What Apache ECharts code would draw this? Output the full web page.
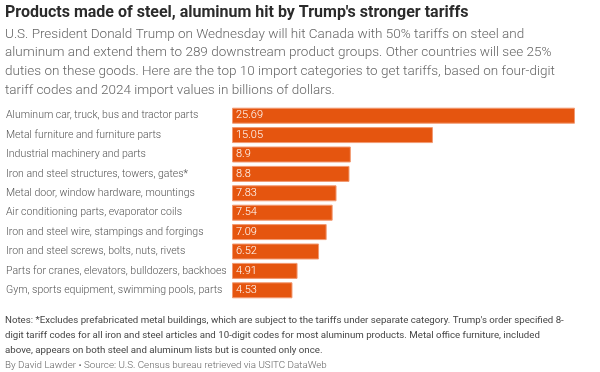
<!DOCTYPE html>
<html><head><meta charset="utf-8">
<script src="https://cdn.jsdelivr.net/npm/echarts@6/dist/echarts.min.js"></script>
<style>html,body{margin:0;padding:0;background:#fff}#c{width:600px;height:372px}</style>
</head><body><div id="c"></div>
<script>
const categories = [
  "Aluminum car, truck, bus and tractor parts",
  "Metal furniture and furniture parts",
  "Industrial machinery and parts",
  "Iron and steel structures, towers, gates*",
  "Metal door, window hardware, mountings",
  "Air conditioning parts, evaporator coils",
  "Iron and steel wire, stampings and forgings",
  "Iron and steel screws, bolts, nuts, rivets",
  "Parts for cranes, elevators, bulldozers, backhoes",
  "Gym, sports equipment, swimming pools, parts"
];
const values = [25.69, 15.05, 8.9, 8.8, 7.83, 7.54, 7.09, 6.52, 4.91, 4.53];
const titleText = "Products made of steel, aluminum hit by Trump's stronger tariffs";
const subtitleLines = [
  "U.S. President Donald Trump on Wednesday will hit Canada with 50% tariffs on steel and",
  "aluminum and extend them to 289 downstream product groups. Other countries will see 25%",
  "duties on these goods. Here are the top 10 import categories to get tariffs, based on four-digit",
  "tariff codes and 2024 import values in billions of dollars."
];
const noteLines = [
  "Notes: *Excludes prefabricated metal buildings, which are subject to the tariffs under separate category. Trump's order specified 8-",
  "digit tariff codes for all iron and steel articles and 10-digit codes for most aluminum products. Metal office furniture, included",
  "above, appears on both steel and aluminum lists but is counted only once."
];
const byline = "By David Lawder \u2022 Source: U.S. Census bureau retrieved via USITC DataWeb";

const FONT = "Roboto";
function txt(text, x, y, size, weight, color, lh, sx) {
  return {
    type: 'text', x: x, y: y, scaleX: sx, silent: true,
    style: {text: text, fontFamily: FONT, fontSize: size, fontWeight: weight, fill: color,
            lineHeight: lh, verticalAlign: 'top', align: 'left'}
  };
}
const chart = echarts.init(document.getElementById('c'), null, {renderer: 'canvas'});
chart.setOption({
  animation: false,
  textStyle: {fontFamily: FONT},
  graphic: [
    txt(titleText, 5, 3, 16, 'bold', '#2b2b2b', 20, 1),
    txt(subtitleLines.join('\n'), 5, 25, 13.5, 300, '#666', 18.7, 1),
    txt(noteLines.join('\n'), 5, 313, 9.7, 'normal', '#444', 15, 1),
    txt(byline, 5, 359, 9.8, 300, '#666', 14, 1)
  ],
  grid: {left: 232, right: 25, top: 106, height: 194},
  xAxis: {type: 'value', min: 0, max: 25.69, show: false},
  yAxis: {
    type: 'category', inverse: true, data: categories,
    axisLine: {show: false}, axisTick: {show: false},
    axisLabel: {align: 'left', margin: 226, fontFamily: FONT, fontSize: 10.5, fontWeight: 300, color: '#555'}
  },
  series: [{
    type: 'bar', data: values, barWidth: 16,
    itemStyle: {color: '#e5550f', borderColor: '#f29a72', borderWidth: 1},
    label: {show: true, position: 'insideLeft', distance: 4, color: '#fff', fontFamily: FONT, fontSize: 11, fontWeight: 300}
  }]
});
</script></body></html>
